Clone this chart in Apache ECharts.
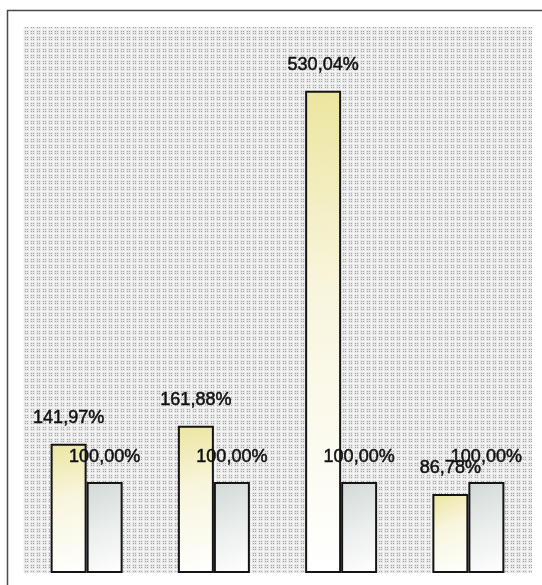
<!DOCTYPE html>
<html>
<head>
<meta charset="utf-8">
<style>
  html, body { margin: 0; padding: 0; background: #ffffff; }
  #chart { width: 542px; height: 585px; }
</style>
<script src="https://cdn.jsdelivr.net/npm/echarts@6/dist/echarts.min.js"></script>
</head>
<body>
<div id="chart"></div>
<script>
// Categories and values (percentages)
const categories = ['1', '2', '3', '4'];
const actualValues = [141.97, 161.88, 530.04, 86.78];
const baseValues = [100.00, 100.00, 100.00, 100.00];
const yMax = 600;

// Small dotted tile used for the plot area background
function makeDotPattern() {
  const c = document.createElement('canvas');
  c.width = 6; c.height = 6;
  const g = c.getContext('2d');
  g.fillStyle = '#e6e6e6';
  g.fillRect(0, 0, 6, 6);
  g.fillStyle = '#a4a4a4';
  [[1,1],[3,1],[1,3],[3,3]].forEach(function (p) { g.fillRect(p[0], p[1], 1, 1); });
  g.fillStyle = '#f6f6f6';
  g.fillRect(5, 0, 1, 6);
  g.fillRect(0, 5, 6, 1);
  return c;
}

function pct(v) {
  return v.toFixed(2).replace('.', ',') + '%';
}

const chart = echarts.init(document.getElementById('chart'), null, { renderer: 'canvas' });

const labelStyle = {
  show: true,
  position: 'top',
  distance: 17,
  fontFamily: 'Liberation Sans, Arial, sans-serif',
  fontSize: 18,
  color: '#111111',
  textBorderColor: '#111111',
  textBorderWidth: 0.5,
  formatter: function (p) { return pct(p.value); }
};

chart.setOption({
  animation: false,
  backgroundColor: '#ffffff',
  graphic: [{
    type: 'rect',
    shape: { x: 7.5, y: 10.5, width: 700, height: 700 },
    style: { fill: 'none', stroke: '#4a4a4a', lineWidth: 1.5 },
    silent: true,
    z: -10
  }],
  grid: {
    left: 23, right: 10, top: 27, bottom: 12,
    show: true,
    borderWidth: 0,
    backgroundColor: { image: makeDotPattern(), repeat: 'repeat' }
  },
  xAxis: {
    type: 'category',
    data: categories,
    axisLine: { show: false },
    axisTick: { show: false },
    axisLabel: { show: false }
  },
  yAxis: {
    type: 'value',
    min: 0,
    max: yMax,
    axisLine: { show: false },
    axisTick: { show: false },
    axisLabel: { show: false },
    splitLine: { show: false }
  },
  series: [
    {
      name: 'actual',
      type: 'bar',
      data: actualValues,
      barWidth: 36,
      barGap: '0%',
      itemStyle: {
        color: new echarts.graphic.LinearGradient(0, 0, 1, 1, [
          { offset: 0, color: '#ece59f' },
          { offset: 0.4, color: '#f8f5dc' },
          { offset: 1, color: '#ffffff' }
        ]),
        borderColor: '#141414',
        borderWidth: 2
      },
      label: labelStyle
    },
    {
      name: 'base',
      type: 'bar',
      data: baseValues,
      barWidth: 36,
      itemStyle: {
        color: new echarts.graphic.LinearGradient(0, 0, 1, 1, [
          { offset: 0, color: '#d2d9d5' },
          { offset: 0.5, color: '#eaeeec' },
          { offset: 1, color: '#ffffff' }
        ]),
        borderColor: '#141414',
        borderWidth: 2
      },
      label: Object.assign({}, labelStyle, { distance: 16 })
    }
  ]
});
</script>
</body>
</html>
